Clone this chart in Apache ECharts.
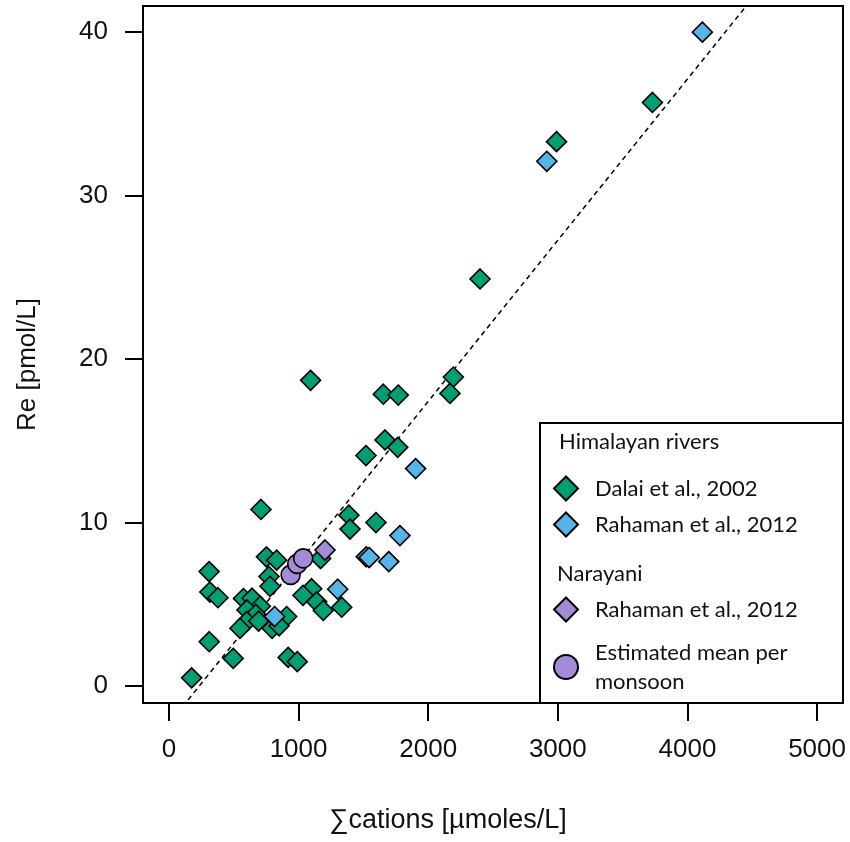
<!DOCTYPE html>
<html lang="en">
<head>
    <meta charset="UTF-8">
    <title>Re vs cations</title>
    <script src="https://cdn.jsdelivr.net/npm/echarts@6/dist/echarts.min.js"></script>
    <style>
        html, body { margin: 0; padding: 0; background: #fff; }
        #box { width: 850px; height: 842px; }
    </style>
</head>
<body>
<div id="box"></div>
<script>
    // Himalayan rivers, Dalai et al. 2002  [cations umol/L, Re pmol/L]
    var dalai = [
        [2990, 33.3], [3730, 35.7], [2400, 24.9], [1093, 18.7], [1654, 17.85],
        [1769, 17.8], [2194, 18.9], [2168, 17.9], [1667, 15.05], [1765, 14.6],
        [1520, 14.1], [710, 10.8], [1388, 10.45], [1397, 9.6], [1597, 10.0],
        [1170, 7.8], [752, 7.9], [831, 7.7], [310, 7.0], [772, 6.7],
        [780, 6.1], [316, 5.75], [378, 5.4], [1101, 5.95], [1034, 5.55],
        [1140, 5.15], [1191, 4.62], [1333, 4.82], [575, 5.35], [642, 5.37],
        [705, 4.88], [602, 4.65], [670, 4.38], [600, 3.94], [692, 3.97],
        [548, 3.53], [908, 4.25], [796, 3.53], [850, 3.68], [311, 2.71],
        [496, 1.69], [920, 1.75], [990, 1.49], [175, 0.5]
    ];
    // Himalayan rivers, Rahaman et al. 2012
    var rahaman = [
        [4115, 40.0], [2915, 32.1], [1903, 13.3], [1782, 9.2], [1522, 7.9],
        [1545, 7.86], [1696, 7.61], [1302, 5.92], [815, 4.25]
    ];
    // Narayani, Rahaman et al. 2012
    var narayani = [[1204, 8.32]];
    // Narayani, estimated mean per monsoon
    var monsoon = [[939, 6.8], [990, 7.47], [1036, 7.81]];

    // dashed regression line  Re = slope * cations + intercept
    var fitSlope = 0.00986;
    var fitIntercept = -2.31;

    var xTicks = [0, 1000, 2000, 3000, 4000, 5000];
    var yTicks = [0, 10, 20, 30, 40];
    var xMin = -200, xMax = 5200;
    var yMin = -1.04, yMax = 41.6;

    var GREEN = '#009e73', BLUE = '#56b4e9', PURPLE = '#a38bd9';
    var axisFont = 'Liberation Sans, Arial, sans-serif';
    var legFont = 'Lato, sans-serif';

    var fitLine = [xMin, xMax].map(function (x) {
        return [x, fitSlope * x + fitIntercept];
    });

    function pts(color, symbol, size) {
        return {
            type: 'scatter',
            symbol: symbol,
            symbolSize: size,
            itemStyle: { color: color, borderColor: '#000', borderWidth: 1.6, opacity: 1 },
            emphasis: { disabled: true }
        };
    }

    var s1 = pts(GREEN, 'diamond', 20); s1.name = 'Dalai et al., 2002'; s1.data = dalai;
    var s2 = pts(BLUE, 'diamond', 20); s2.name = 'Rahaman et al., 2012'; s2.data = rahaman;
    var s3 = pts(PURPLE, 'diamond', 20); s3.name = 'Rahaman et al., 2012 (Narayani)'; s3.data = narayani;
    var s4 = pts(PURPLE, 'circle', 19); s4.name = 'Estimated mean per monsoon'; s4.data = monsoon;

    var legendText = {
        fontFamily: legFont, fontSize: 22, color: '#111', lineHeight: 29,
        padding: [0, 0, 0, 12]
    };

    function plain(v) { return String(v); }

    var mychart = echarts.init(document.getElementById('box'));
    var option = {
        animation: false,
        backgroundColor: '#fff',
        grid: {
            left: 143, right: 7, top: 6, bottom: 139,
            show: true, borderColor: '#000', borderWidth: 2,
            outerBoundsMode: 'none'
        },
        xAxis: {
            type: 'value', min: xMin, max: xMax,
            name: '\u2211cations [\u00b5moles/L]',
            nameLocation: 'middle', nameGap: 104,
            nameTextStyle: { fontFamily: axisFont, fontSize: 27, color: '#111', padding: [0, 90, 0, 0] },
            axisLine: { show: false, onZero: false },
            splitLine: { show: false },
            axisTick: { show: true, inside: false, length: 18, customValues: xTicks,
                lineStyle: { color: '#000', width: 2 } },
            axisLabel: { customValues: xTicks, formatter: plain, margin: 34,
                fontFamily: axisFont, fontSize: 26, color: '#111' }
        },
        yAxis: {
            type: 'value', min: yMin, max: yMax,
            name: 'Re [pmol/L]',
            nameLocation: 'middle', nameGap: 102,
            nameTextStyle: { fontFamily: axisFont, fontSize: 26, color: '#111', padding: [0, 20, 0, 0] },
            axisLine: { show: false, onZero: false },
            splitLine: { show: false },
            axisTick: { show: true, inside: false, length: 18, customValues: yTicks,
                lineStyle: { color: '#000', width: 2 } },
            axisLabel: { customValues: yTicks, formatter: plain, margin: 35,
                fontFamily: axisFont, fontSize: 26, color: '#111' }
        },
        legend: [{
            data: [s1.name, s2.name],
            orient: 'vertical', left: 553, top: 474, padding: 0, z: 60,
            itemWidth: 24, itemHeight: 24, itemGap: 7,
            selectedMode: false,
            textStyle: legendText
        }, {
            data: [s3.name, s4.name],
            orient: 'vertical', left: 553, top: 595, padding: 0, z: 60,
            itemWidth: 24, itemHeight: 24, itemGap: 14,
            selectedMode: false,
            textStyle: legendText,
            formatter: function (n) {
                if (n === s3.name) return 'Rahaman et al., 2012';
                return 'Estimated mean per\nmonsoon';
            }
        }],
        graphic: [{
            type: 'rect', z: 50,
            shape: { x: 540, y: 423, width: 303, height: 280 },
            style: { fill: '#fff', stroke: '#000', lineWidth: 2 }
        }, {
            type: 'text', z: 51, left: 559, top: 431,
            style: { text: 'Himalayan rivers', font: '22px Lato, sans-serif', fill: '#111' }
        }, {
            type: 'text', z: 51, left: 557, top: 563,
            style: { text: 'Narayani', font: '22px Lato, sans-serif', fill: '#111' }
        }],
        series: [{
            type: 'line',
            data: fitLine,
            symbol: 'none',
            clip: true,
            z: 1,
            silent: true,
            lineStyle: { color: '#000', width: 1.5, type: [5, 4] }
        }, s1, s2, s3, s4]
    };
    mychart.setOption(option);
</script>
</body>
</html>
